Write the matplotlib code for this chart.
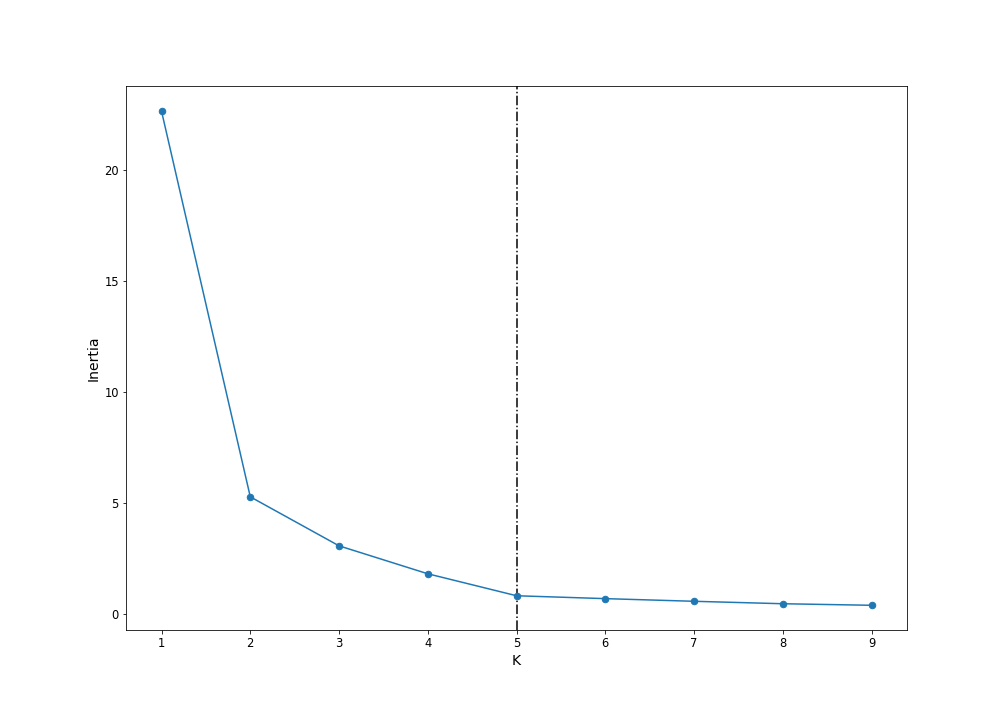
import numpy as np
from matplotlib import pyplot as plt

# numero de clusters y su inercia
k_values = [1, 2, 3, 4, 5, 6, 7, 8, 9]
inertia = [22.66, 5.27, 3.06, 1.80, 0.81, 0.68, 0.56, 0.45, 0.38]
k_optimo = 5

fig = plt.figure(figsize=(14, 10), dpi=72)
ax = fig.add_axes([0.125, 0.125, 0.775, 0.755])

ax.axvline(k_optimo, color='k', linestyle='-.', linewidth=1.5, zorder=1)
ax.plot(k_values, inertia, marker='o', color='tab:blue', linewidth=1.5,
        markersize=6.5, zorder=2)

ax.set_xlabel("K", fontsize=14)
ax.set_ylabel("Inertia", fontsize=14)
ax.tick_params(labelsize=11.5)

plt.savefig("out.png", dpi=72)
